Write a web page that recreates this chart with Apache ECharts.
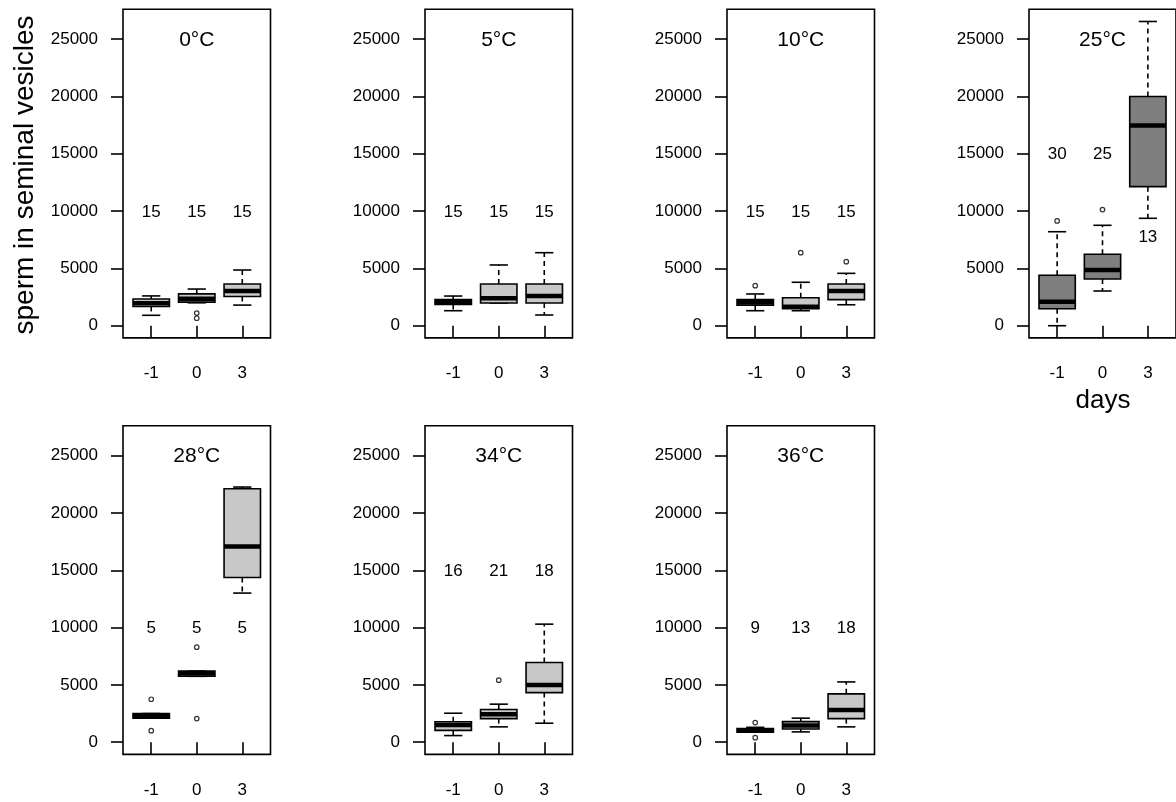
<!DOCTYPE html>
<html>
<head>
<meta charset="utf-8">
<script src="https://cdn.jsdelivr.net/npm/echarts@6/dist/echarts.min.js"></script>
<style>
html,body{margin:0;padding:0;background:#fff;}
#chart{width:1176px;height:802px;}
</style>
</head>
<body>
<div id="chart"></div>
<script>
// ---- data ----
const panelTitles = ['0°C', '5°C', '10°C', '25°C', '28°C', '34°C', '36°C'];
const dayLabels = ['-1', '0', '3'];
const yTicks = [0, 5000, 10000, 15000, 20000, 25000];

// box stats per day: [lower whisker, Q1, median, Q3, upper whisker]
const box_0C  = [[910, 1680, 1950, 2330, 2600], [2000, 2060, 2350, 2780, 3200], [1800, 2550, 3030, 3640, 4860]];
const box_5C  = [[1310, 1850, 2050, 2280, 2590], [1980, 1980, 2400, 3640, 5300], [935, 1980, 2600, 3640, 6370]];
const box_10C = [[1310, 1800, 2050, 2280, 2770], [1310, 1480, 1650, 2440, 3790], [1830, 2280, 3030, 3640, 4570]];
const box_25C = [[0, 1480, 2100, 4400, 8200], [3030, 4080, 4860, 6230, 8760], [9370, 12130, 17460, 19990, 26540]];
const box_28C = [[2100, 2100, 2300, 2500, 2500], [5750, 5750, 6000, 6200, 6200], [13010, 14370, 17080, 22110, 22260]];
const box_34C = [[580, 1030, 1500, 1780, 2530], [1340, 2060, 2450, 2850, 3320], [1660, 4330, 5000, 6950, 10300]];
const box_36C = [[880, 880, 1050, 1200, 1300], [900, 1150, 1450, 1800, 2100], [1340, 2060, 2820, 4220, 5260]];

// outliers: [day index (1..3), value]
const out_0C  = [[2, 1100], [2, 650]];
const out_5C  = [];
const out_10C = [[1, 3490], [2, 6370], [3, 5590]];
const out_25C = [[1, 9140], [2, 10130]];
const out_28C = [[1, 3750], [1, 1010], [2, 8290], [2, 2060]];
const out_34C = [[2, 5410]];
const out_36C = [[1, 1710], [1, 400]];

// sample sizes and the height where they are written
const n_0C  = ['15', '15', '15'];  const nY_0C  = [10000, 10000, 10000];
const n_5C  = ['15', '15', '15'];  const nY_5C  = [10000, 10000, 10000];
const n_10C = ['15', '15', '15'];  const nY_10C = [10000, 10000, 10000];
const n_25C = ['30', '25', '13'];  const nY_25C = [15000, 15000, 7800];
const n_28C = ['5', '5', '5'];     const nY_28C = [10000, 10000, 10000];
const n_34C = ['16', '21', '18'];  const nY_34C = [15000, 15000, 15000];
const n_36C = ['9', '13', '18'];   const nY_36C = [10000, 10000, 10000];

const fill_panels = ['#c8c8c8', '#c8c8c8', '#c8c8c8', '#7f7f7f', '#c8c8c8', '#c8c8c8', '#c8c8c8'];

const boxes = [box_0C, box_5C, box_10C, box_25C, box_28C, box_34C, box_36C];
const outs = [out_0C, out_5C, out_10C, out_25C, out_28C, out_34C, out_36C];
const ns = [n_0C, n_5C, n_10C, n_25C, n_28C, n_34C, n_36C];
const nYs = [nY_0C, nY_5C, nY_10C, nY_25C, nY_28C, nY_34C, nY_36C];

// ---- layout ----
const FONT = '"Liberation Sans", Arial, sans-serif';
const colLeft = [123, 425, 727, 1029];
const rowTop = [9.3, 425.8];
const gridW = 147.5, gridH = 328.6;
const Y_MIN = -1062, Y_MAX = 27602;
const X_MIN = 0.38, X_MAX = 3.62;
const LW = 1.6;

const grids = [], xAxes = [], yAxes = [], series = [];

panelTitles.forEach((title, i) => {
  const col = i % 4, row = Math.floor(i / 4);
  grids.push({
    left: colLeft[col], top: rowTop[row], width: gridW, height: gridH,
    show: true, borderColor: '#000', borderWidth: LW, backgroundColor: 'transparent'
  });
  xAxes.push({
    gridIndex: i, type: 'value', min: X_MIN, max: X_MAX,
    axisLine: { show: false }, splitLine: { show: false },
    axisTick: { show: true, length: 12, customValues: [1, 2, 3], lineStyle: { color: '#000', width: LW } },
    axisLabel: { show: true, customValues: [1, 2, 3], formatter: v => dayLabels[Math.round(v) - 1],
      margin: 27, color: '#000', fontSize: 17, fontFamily: FONT }
  });
  yAxes.push({
    gridIndex: i, type: 'value', min: Y_MIN, max: Y_MAX,
    axisLine: { show: false }, splitLine: { show: false },
    axisTick: { show: true, length: 12, customValues: yTicks, lineStyle: { color: '#000', width: LW } },
    axisLabel: { show: true, customValues: yTicks, formatter: v => String(Math.round(v)),
      margin: 25, color: '#000', fontSize: 17, fontFamily: FONT }
  });

  const fill = fill_panels[i];
  // boxes
  series.push({
    type: 'custom', xAxisIndex: i, yAxisIndex: i,
    data: boxes[i].map((s, k) => [k + 1].concat(s)),
    renderItem: (params, api) => {
      const x = api.value(0);
      const lo = api.value(1), q1 = api.value(2), md = api.value(3), q3 = api.value(4), hi = api.value(5);
      const pTL = api.coord([x - 0.4, q3]);
      const pBR = api.coord([x + 0.4, q1]);
      const cx = api.coord([x, 0])[0];
      const sL = api.coord([x - 0.2, 0])[0], sR = api.coord([x + 0.2, 0])[0];
      const yLo = api.coord([x, lo])[1], yHi = api.coord([x, hi])[1];
      const yMd = api.coord([x, md])[1];
      const children = [];
      if (hi > q3) children.push({ type: 'line', shape: { x1: cx, y1: pTL[1], x2: cx, y2: yHi },
        style: { stroke: '#000', lineWidth: LW, lineDash: [5, 4] } });
      if (lo < q1) children.push({ type: 'line', shape: { x1: cx, y1: pBR[1], x2: cx, y2: yLo },
        style: { stroke: '#000', lineWidth: LW, lineDash: [5, 4] } });
      children.push({ type: 'line', shape: { x1: sL, y1: yHi, x2: sR, y2: yHi }, style: { stroke: '#000', lineWidth: LW } });
      children.push({ type: 'line', shape: { x1: sL, y1: yLo, x2: sR, y2: yLo }, style: { stroke: '#000', lineWidth: LW } });
      children.push({ type: 'rect', shape: { x: pTL[0], y: pTL[1], width: pBR[0] - pTL[0], height: pBR[1] - pTL[1] },
        style: { fill: fill, stroke: '#000', lineWidth: LW } });
      children.push({ type: 'line', shape: { x1: pTL[0], y1: yMd, x2: pBR[0], y2: yMd }, style: { stroke: '#000', lineWidth: 4.5 } });
      return { type: 'group', children };
    },
    silent: true, z: 2
  });
  // outliers
  series.push({
    type: 'scatter', xAxisIndex: i, yAxisIndex: i, data: outs[i],
    symbol: 'circle', symbolSize: 4.5,
    itemStyle: { color: '#fff', borderColor: '#000', borderWidth: 1.2 },
    silent: true, z: 3
  });
  // texts: panel title and sample sizes
  const texts = [[2, 25000, title, 21]].concat(ns[i].map((t, k) => [k + 1, nYs[i][k], t, 17]));
  series.push({
    type: 'custom', xAxisIndex: i, yAxisIndex: i, data: texts,
    renderItem: (params, api) => {
      const d = texts[params.dataIndex];
      const p = api.coord([d[0], d[1]]);
      return { type: 'text', x: p[0], y: p[1] + 1,
        style: { text: d[2], fill: '#000', font: d[3] + 'px ' + FONT, textAlign: 'center', textVerticalAlign: 'middle' } };
    },
    silent: true, z: 4
  });
});

const chart = echarts.init(document.getElementById('chart'), null, { renderer: 'canvas' });
chart.setOption({
  backgroundColor: '#fff',
  animation: false,
  grid: grids, xAxis: xAxes, yAxis: yAxes, series: series,
  graphic: [
    { type: 'text', x: 25, y: 175, rotation: Math.PI / 2,
      style: { text: 'sperm in seminal vesicles', fill: '#000', font: '28px ' + FONT, textAlign: 'center', textVerticalAlign: 'middle' } },
    { type: 'text', x: 1103, y: 401,
      style: { text: 'days', fill: '#000', font: '26px ' + FONT, textAlign: 'center', textVerticalAlign: 'middle' } }
  ]
});
</script>
</body>
</html>
